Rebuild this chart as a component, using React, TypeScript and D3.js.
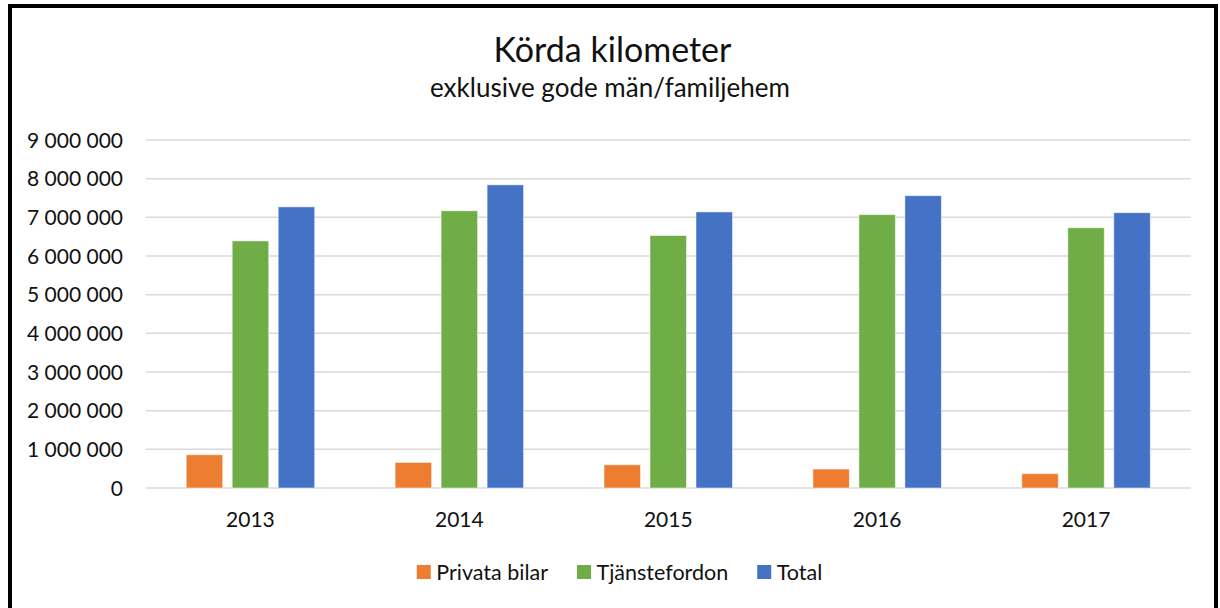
import * as React from "react";
import * as d3 from "d3";

const years = ["2013", "2014", "2015", "2016", "2017"];
const seriesNames = ["Privata bilar", "Tjänstefordon", "Total"];
const privataBilar = [860000, 660000, 600000, 490000, 370000];
const tjanstefordon = [6390000, 7170000, 6530000, 7070000, 6730000];
const total = [7270000, 7840000, 7140000, 7560000, 7120000];
const yTicks = [0, 1000000, 2000000, 3000000, 4000000, 5000000, 6000000, 7000000, 8000000, 9000000];
const colors = ["#ED7D31", "#70AD47", "#4472C4"];

const FONT = "Lato, 'Open Sans', sans-serif";

const BarChart = () => {
  const svgRef = React.useRef<SVGSVGElement>(null);

  React.useEffect(() => {
    const width = 1220;
    const height = 608;
    const plot = { left: 146, right: 1190.5, top: 140, bottom: 488 };

    const svg = d3.select(svgRef.current);
    svg.selectAll("*").remove();

    // outer frame, bottom edge falls outside the picture
    svg
      .append("rect")
      .attr("x", 10)
      .attr("y", 6)
      .attr("width", 1206)
      .attr("height", 700)
      .attr("fill", "#fff")
      .attr("stroke", "#000")
      .attr("stroke-width", 4);

    const values = [privataBilar, tjanstefordon, total];
    const rows = years.map((yr, i) => ({
      year: yr,
      vals: seriesNames.map((name, s) => ({ name, value: values[s][i], color: colors[s] })),
    }));

    const x0 = d3
      .scaleBand()
      .domain(years)
      .range([plot.left, plot.right])
      .paddingInner(0.385)
      .paddingOuter(0.1925);

    const x1 = d3
      .scaleBand()
      .domain(seriesNames)
      .range([0, x0.bandwidth()])
      .paddingInner(0.2065);

    const y = d3.scaleLinear().domain([0, 9000000]).range([plot.bottom, plot.top]);

    // titles
    svg
      .append("text")
      .attr("x", 612.5)
      .attr("y", 62)
      .attr("text-anchor", "middle")
      .attr("font-family", FONT)
      .attr("font-size", 34)
      .attr("fill", "#111")
      .text("Körda kilometer");

    svg
      .append("text")
      .attr("x", 610)
      .attr("y", 97)
      .attr("text-anchor", "middle")
      .attr("font-family", FONT)
      .attr("font-size", 26)
      .attr("fill", "#111")
      .text("exklusive gode män/familjehem");

    // grid lines + y labels
    const grid = svg.append("g");
    grid
      .selectAll("line")
      .data(yTicks)
      .enter()
      .append("line")
      .attr("x1", plot.left)
      .attr("x2", plot.right)
      .attr("y1", (d) => y(d))
      .attr("y2", (d) => y(d))
      .attr("stroke", "#d9d9d9")
      .attr("stroke-width", 1.5);

    const fmt = (v: number) => d3.format(",")(v).replace(/,/g, " ");

    svg
      .append("g")
      .selectAll("text")
      .data(yTicks)
      .enter()
      .append("text")
      .attr("x", 123)
      .attr("y", (d) => y(d))
      .attr("dy", "0.36em")
      .attr("text-anchor", "end")
      .attr("font-family", FONT)
      .attr("font-size", 21)
      .attr("fill", "#111")
      .text((d) => fmt(d));

    // bars
    const groups = svg
      .append("g")
      .selectAll("g")
      .data(rows)
      .enter()
      .append("g")
      .attr("transform", (d) => `translate(${x0(d.year)},0)`);

    groups
      .selectAll("rect")
      .data((d) => d.vals)
      .enter()
      .append("rect")
      .attr("x", (d) => x1(d.name)!)
      .attr("width", x1.bandwidth())
      .attr("y", (d) => y(d.value))
      .attr("height", (d) => y(0) - y(d.value))
      .attr("fill", (d) => d.color)
      .attr("stroke", "#fff")
      .attr("stroke-opacity", 0.5)
      .attr("stroke-width", 1);

    // x labels
    svg
      .append("g")
      .selectAll("text")
      .data(years)
      .enter()
      .append("text")
      .attr("x", (d) => x0(d)! + x0.bandwidth() / 2)
      .attr("y", 527)
      .attr("text-anchor", "middle")
      .attr("font-family", FONT)
      .attr("font-size", 21)
      .attr("fill", "#111")
      .text((d) => d);

    // legend, laid out from measured text widths and centered
    const legend = svg.append("g");
    const items = seriesNames.map((name, i) => {
      const g = legend.append("g");
      g.append("rect")
        .attr("x", 0)
        .attr("y", 565)
        .attr("width", 14)
        .attr("height", 14)
        .attr("fill", colors[i]);
      const t = g
        .append("text")
        .attr("x", 19.5)
        .attr("y", 572)
        .attr("dy", "0.36em")
        .attr("font-family", FONT)
        .attr("font-size", 21.5)
        .attr("fill", "#111")
        .text(name);
      const w = (t.node() as SVGTextElement).getComputedTextLength();
      return { g, w: 19.5 + w };
    });
    const gap = 29;
    const totalW = d3.sum(items, (d) => d.w) + gap * (items.length - 1);
    let cx = 619.5 - totalW / 2;
    items.forEach((it) => {
      it.g.attr("transform", `translate(${cx},0)`);
      cx += it.w + gap;
    });

    svg.attr("width", width).attr("height", height);
  }, []);

  return (
    <svg
      ref={svgRef}
      width={1220}
      height={608}
      style={{ position: "absolute", left: 0, top: 0, background: "#fff" }}
    />
  );
};

export default function App() {
  return <BarChart />;
}
